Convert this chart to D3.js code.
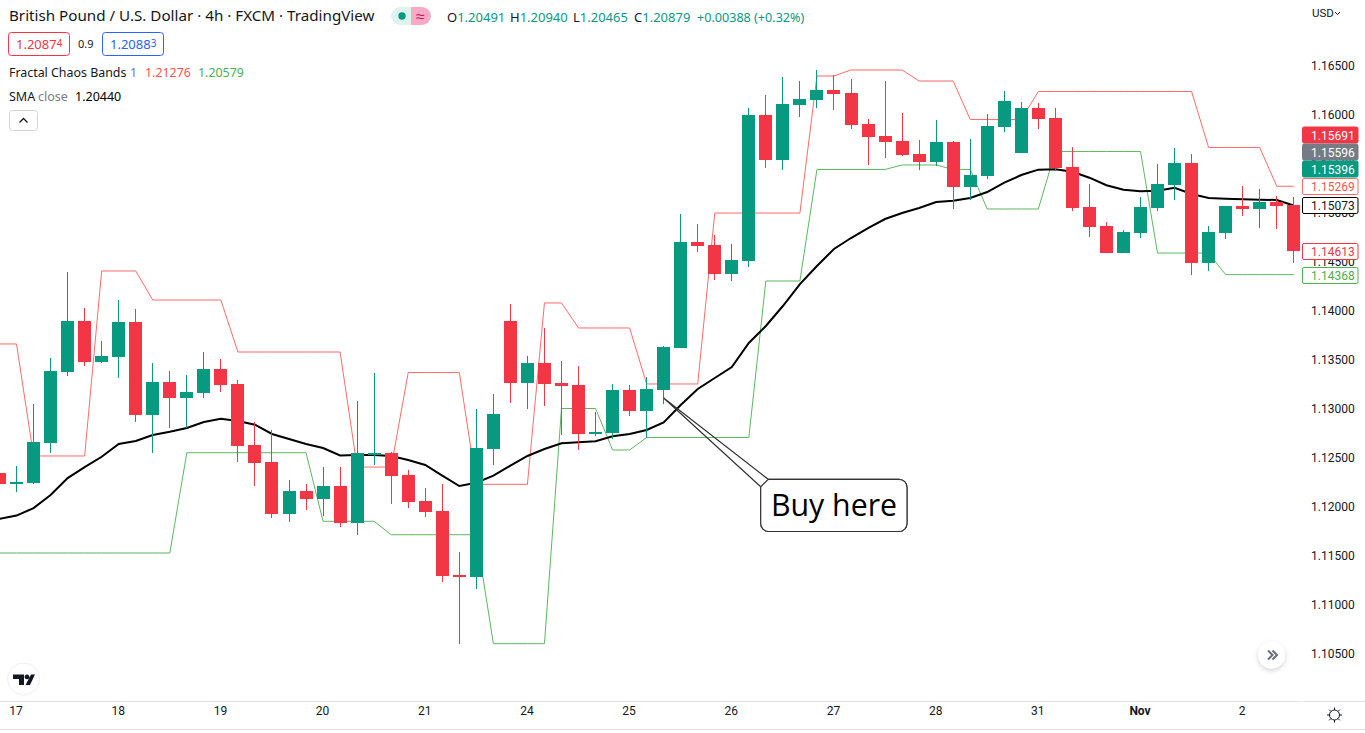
<!DOCTYPE html>
<html lang="en">
<head>
<meta charset="utf-8">
<title>British Pound / U.S. Dollar 4h</title>
<style>
    html, body { margin: 0; padding: 0; background: #fff; overflow: hidden; }
    svg { display: block; }
    text { font-family: "Noto Sans", sans-serif; fill: #131722; }
    .axis text { font-family: Roboto, sans-serif; font-size: 12px; fill: #131722; }
    .axis path, .axis line { display: none; }
</style>
</head>
<body>
<script src="https://cdn.jsdelivr.net/npm/d3@7/dist/d3.min.js"></script>
<script>
// one value per 4h bar
const open = [1.12345,1.12233,1.12243,1.12651,1.13375,1.13895,1.13477,1.13528,1.13885,1.12937,1.13273,1.13110,1.13161,1.13406,1.13253,1.12631,1.12457,1.11927,1.12162,1.12080,1.12213,1.11835,1.12534,1.12549,1.12325,1.12060,1.11958,1.11305,1.11285,1.12590,1.13895,1.13263,1.13467,1.13263,1.13243,1.12743,1.12753,1.13192,1.12977,1.13192,1.13620,1.14701,1.14670,1.14374,1.14507,1.15995,1.15537,1.16097,1.16148,1.16250,1.16220,1.15904,1.15781,1.15730,1.15598,1.15516,1.15720,1.15261,1.15373,1.15873,1.15608,1.16067,1.15965,1.15465,1.15057,1.14864,1.14588,1.14792,1.15047,1.15282,1.15506,1.14486,1.14792,1.15068,1.15037,1.15108,1.15078];
const high = [1.12345,1.12417,1.13049,1.13518,1.14395,1.14028,1.13691,1.14109,1.14017,1.13467,1.13385,1.13344,1.13579,1.13508,1.13294,1.12865,1.12784,1.12274,1.12233,1.12406,1.12406,1.13079,1.13365,1.12559,1.12376,1.12192,1.12233,1.11540,1.12998,1.13151,1.14068,1.13538,1.13824,1.13487,1.13436,1.12967,1.13253,1.13243,1.13324,1.13640,1.14986,1.14884,1.14772,1.14680,1.16067,1.16199,1.16383,1.16342,1.16454,1.16403,1.16362,1.15955,1.16342,1.16016,1.15741,1.15944,1.15730,1.15751,1.16006,1.16240,1.16128,1.16118,1.16067,1.15669,1.15292,1.14904,1.14823,1.15159,1.15496,1.15659,1.15598,1.14864,1.15068,1.15272,1.15241,1.15170,1.15159];
const low = [1.12233,1.12152,1.12233,1.12549,1.13334,1.13436,1.13467,1.13314,1.12865,1.12549,1.12804,1.12804,1.13110,1.13171,1.12457,1.12213,1.11887,1.11846,1.11968,1.11907,1.11795,1.11713,1.12427,1.12029,1.11988,1.11897,1.11234,1.10602,1.11163,1.12427,1.13059,1.12998,1.13028,1.12733,1.12580,1.12722,1.12692,1.12927,1.12702,1.13049,1.13620,1.14599,1.14313,1.14303,1.14446,1.15455,1.15435,1.15975,1.16067,1.16046,1.15853,1.15486,1.15557,1.15577,1.15435,1.15475,1.15037,1.15129,1.15343,1.15822,1.15608,1.15853,1.15424,1.15017,1.14752,1.14588,1.14588,1.14741,1.15017,1.15129,1.14364,1.14405,1.14731,1.14966,1.14843,1.14833,1.14486];
const close = [1.12233,1.12253,1.12661,1.13385,1.13895,1.13477,1.13538,1.13885,1.12937,1.13273,1.13110,1.13171,1.13406,1.13243,1.12621,1.12447,1.11927,1.12162,1.12080,1.12213,1.11835,1.12549,1.12549,1.12315,1.12050,1.11948,1.11295,1.11285,1.12600,1.12947,1.13263,1.13467,1.13253,1.13233,1.12743,1.12763,1.13192,1.12977,1.13202,1.13630,1.14701,1.14660,1.14374,1.14517,1.15995,1.15537,1.16108,1.16159,1.16250,1.16210,1.15894,1.15771,1.15720,1.15588,1.15516,1.15720,1.15261,1.15383,1.15883,1.16138,1.16067,1.15955,1.15455,1.15047,1.14853,1.14588,1.14803,1.15057,1.15292,1.15506,1.14486,1.14803,1.15068,1.15037,1.15108,1.15068,1.14613];

const upperBand = [1.13661,1.13661,1.12519,1.12519,1.12519,1.12519,1.14405,1.14405,1.14405,1.14109,1.14109,1.14109,1.14109,1.14109,1.13579,1.13579,1.13579,1.13579,1.13579,1.13579,1.13579,1.12406,1.12406,1.12406,1.13370,1.13370,1.13370,1.13370,1.12230,1.12230,1.12230,1.12230,1.14079,1.14079,1.13824,1.13824,1.13824,1.13824,1.13253,1.13253,1.13253,1.13253,1.14996,1.14996,1.14996,1.14996,1.14996,1.14996,1.16393,1.16393,1.16454,1.16454,1.16454,1.16454,1.16342,1.16342,1.16342,1.15950,1.15950,1.15950,1.15950,1.16235,1.16235,1.16235,1.16235,1.16235,1.16235,1.16235,1.16235,1.16235,1.16235,1.15664,1.15664,1.15664,1.15664,1.15269,1.15269];
const lowerBand = [1.11530,1.11530,1.11530,1.11530,1.11530,1.11530,1.11530,1.11530,1.11530,1.11530,1.11530,1.12552,1.12552,1.12552,1.12552,1.12552,1.12552,1.12552,1.12552,1.11853,1.11853,1.11853,1.11853,1.11716,1.11716,1.11716,1.11716,1.11716,1.11716,1.10605,1.10605,1.10605,1.10605,1.13003,1.13003,1.13003,1.12580,1.12580,1.12707,1.12707,1.12707,1.12707,1.12707,1.12707,1.12707,1.14303,1.14303,1.14303,1.15440,1.15440,1.15440,1.15440,1.15440,1.15486,1.15486,1.15486,1.15440,1.15440,1.15037,1.15037,1.15037,1.15037,1.15623,1.15623,1.15623,1.15623,1.15623,1.15623,1.14588,1.14588,1.14588,1.14588,1.14368,1.14368,1.14368,1.14368,1.14368];
const sma = [1.11879,1.11911,1.11988,1.12121,1.12294,1.12406,1.12511,1.12641,1.12671,1.12733,1.12766,1.12804,1.12865,1.12899,1.12875,1.12838,1.12743,1.12692,1.12641,1.12600,1.12524,1.12529,1.12529,1.12519,1.12478,1.12427,1.12318,1.12213,1.12246,1.12318,1.12420,1.12519,1.12590,1.12649,1.12659,1.12669,1.12720,1.12743,1.12784,1.12862,1.13039,1.13202,1.13314,1.13426,1.13671,1.13844,1.14048,1.14272,1.14456,1.14629,1.14741,1.14843,1.14935,1.14996,1.15047,1.15108,1.15122,1.15149,1.15210,1.15305,1.15383,1.15438,1.15442,1.15417,1.15356,1.15279,1.15234,1.15218,1.15224,1.15254,1.15190,1.15149,1.15142,1.15136,1.15132,1.15129,1.15073];

const priceTicks = [1.165,1.16,1.155,1.15,1.145,1.14,1.135,1.13,1.125,1.12,1.115,1.11,1.105];
const timeTickBars = [1,7,13,19,25,31,37,43,49,55,61,67,73];
const timeTickLabels = ["17","18","19","20","21","24","25","26","27","28","31","Nov","2"];
const ohlcNames = ["O","H","L","C"];
const ohlcValues = ["1.20491","1.20940","1.20465","1.20879"];

const priceTags = ["1.15691","1.15596","1.15396","1.15269","1.15073","1.14613","1.14368"];

const UP = "#089981", DOWN = "#f23645";
const width = 1365, height = 733;

const x = d3.scaleLinear().domain([0, 76]).range([-0.5, 1293.78]);
const y = d3.scaleLinear().domain([1.165, 1.105]).range([65.5, 654]);

const svg = d3.select("body").append("svg").attr("width", width).attr("height", height);

// bands and sma sit under the candles
const lineGen = d3.line().x((d, i) => x(i)).y(d => y(d));
svg.append("path").datum(upperBand).attr("d", lineGen).attr("fill", "none").attr("stroke", "#ff6a6a").attr("stroke-width", 1);
svg.append("path").datum(lowerBand).attr("d", lineGen).attr("fill", "none").attr("stroke", "#5cb860").attr("stroke-width", 1);
svg.append("path").datum(sma).attr("d", lineGen).attr("fill", "none").attr("stroke", "#000").attr("stroke-width", 2);

const bars = svg.append("g").selectAll("g").data(open).join("g")
    .attr("fill", (d, i) => close[i] >= open[i] ? UP : DOWN);
bars.append("rect")
    .attr("x", (d, i) => Math.floor(x(i)))
    .attr("width", 1)
    .attr("y", (d, i) => Math.round(y(high[i])))
    .attr("height", (d, i) => Math.round(y(low[i])) - Math.round(y(high[i])));
bars.append("rect")
    .attr("x", (d, i) => Math.floor(x(i)) - 6)
    .attr("width", 13)
    .attr("y", (d, i) => Math.round(y(Math.max(open[i], close[i]))))
    .attr("height", (d, i) => Math.max(2, Math.round(y(Math.min(open[i], close[i]))) - Math.round(y(Math.max(open[i], close[i])))));

// price axis
svg.append("g").attr("class", "axis").attr("transform", "translate(1309,0)")
    .call(d3.axisRight(y).tickValues(priceTicks).tickFormat(d3.format(".5f")).tickSize(0).tickPadding(2));

// time axis
svg.append("line").attr("x1", 0).attr("x2", 1302).attr("y1", 701.5).attr("y2", 701.5).attr("stroke", "#e0e3eb");
svg.append("line").attr("x1", 1303).attr("x2", width).attr("y1", 701.5).attr("y2", 701.5).attr("stroke", "#e0e3eb");
svg.append("line").attr("x1", 0).attr("x2", width).attr("y1", 729.5).attr("y2", 729.5).attr("stroke", "#e0e3eb");
const timeAxis = svg.append("g").attr("class", "axis").attr("transform", "translate(-1,706)")
    .call(d3.axisBottom(x).tickValues(timeTickBars).tickFormat((d, i) => timeTickLabels[i]).tickSize(0).tickPadding(0));
timeAxis.selectAll("text").filter((d, i) => timeTickLabels[i] === "Nov").style("font-weight", "bold");

// last value tags on the price scale
const tagStyles = [
    { y: 127, fill: DOWN, stroke: DOWN, text: "#fff" },
    { y: 144, fill: "#787b86", stroke: "#787b86", text: "#fff" },
    { y: 161, fill: UP, stroke: UP, text: "#fff" },
    { y: 178.5, fill: "#fff", stroke: "#ff6a6a", text: "#ff5252" },
    { y: 197.5, fill: "#fff", stroke: "#000", text: "#131722" },
    { y: 243.5, fill: "#fff", stroke: DOWN, text: DOWN },
    { y: 267.5, fill: "#fff", stroke: "#4caf50", text: "#4caf50" }
];
const tags = svg.append("g").selectAll("g").data(priceTags).join("g")
    .attr("transform", (d, i) => "translate(1302.5," + tagStyles[i].y + ")");
tags.append("rect")
    .attr("width", 55.5).attr("height", 16).attr("rx", 1.5)
    .attr("fill", (d, i) => tagStyles[i].fill)
    .attr("stroke", (d, i) => tagStyles[i].stroke);
tags.append("text")
    .attr("x", 8.5).attr("y", 12.5)
    .style("font-family", "Roboto, sans-serif").style("font-size", "12px")
    .style("fill", (d, i) => tagStyles[i].text)
    .text(d => d);

// "Buy here" callout, tail anchored at the bar it points to
const tipX = x(39), tipY = y(1.13049) - 6;
svg.append("path")
    .attr("d", "M760.7,486.7L" + tipX + "," + tipY + "L768.3,479.3H899a8,8 0 0 1 8,8V523.5a8,8 0 0 1 -8,8H768.7a8,8 0 0 1 -8,-8Z")
    .attr("fill", "none").attr("stroke", "#333").attr("stroke-width", 1.2);
svg.append("path")
    .attr("d", "M768.3,479.3H899a8,8 0 0 1 8,8V523.5a8,8 0 0 1 -8,8H768.7a8,8 0 0 1 -8,-8V486.7Z")
    .attr("fill", "#fff").attr("stroke", "#333").attr("stroke-width", 1.2);
svg.append("text").attr("x", 834).attr("y", 516).attr("text-anchor", "middle")
    .style("font-family", "'Open Sans', sans-serif").style("font-size", "30.3px").style("fill", "#000").text("Buy here");

// legend
const legend = svg.append("g");
legend.append("text").attr("x", 9).attr("y", 21).style("font-size", "15.2px").text("British Pound / U.S. Dollar · 4h · FXCM · TradingView");

legend.append("path").attr("d", "M411,7H400a9,9 0 0 0 0,18H411Z").attr("fill", "#dff3ee");
legend.append("path").attr("d", "M411,7H422a9,9 0 0 1 0,18H411Z").attr("fill", "#f7aac5");
legend.append("circle").attr("cx", 402).attr("cy", 16).attr("r", 3.7).attr("fill", UP);
legend.append("text").attr("x", 420.5).attr("y", 21.5).attr("text-anchor", "middle").style("font-size", "16px").style("fill", "#c2185b").text("≈");

const ohlcX = [447, 510, 573, 634];
ohlcNames.forEach((n, i) => {
    const t = legend.append("text").attr("x", ohlcX[i]).attr("y", 22).style("font-size", "13px");
    t.append("tspan").text(n);
    t.append("tspan").style("fill", UP).text(ohlcValues[i]);
});
legend.append("text").attr("x", 697).attr("y", 22).style("font-size", "12.6px").style("fill", UP).text("+0.00388 (+0.32%)");

legend.append("rect").attr("x", 8.5).attr("y", 32.5).attr("width", 61).attr("height", 23).attr("rx", 3).attr("fill", "#fff").attr("stroke", DOWN);
legend.append("rect").attr("x", 102.5).attr("y", 32.5).attr("width", 61).attr("height", 23).attr("rx", 3).attr("fill", "#fff").attr("stroke", "#2962ff");
const sellTag = legend.append("text").attr("x", 16).attr("y", 49).style("font-size", "13px").style("fill", DOWN);
sellTag.append("tspan").text("1.2087");
sellTag.append("tspan").attr("dy", -2).style("font-size", "10px").text("4");
legend.append("text").attr("x", 78).attr("y", 48).style("font-size", "11px").text("0.9");
const buyTag = legend.append("text").attr("x", 110).attr("y", 49).style("font-size", "13px").style("fill", "#2962ff");
buyTag.append("tspan").text("1.2088");
buyTag.append("tspan").attr("dy", -2).style("font-size", "10px").text("3");

const fractal = legend.append("text").attr("x", 9).attr("y", 77).style("font-size", "12.4px");
fractal.append("tspan").text("Fractal Chaos Bands");
fractal.append("tspan").attr("x", 130).style("fill", "#787b86").text("1");
fractal.append("tspan").attr("x", 145).style("fill", "#ff5252").text("1.21276");
fractal.append("tspan").attr("x", 198).style("fill", "#4caf50").text("1.20579");

const smaText = legend.append("text").attr("x", 9).attr("y", 101).style("font-size", "12.5px");
smaText.append("tspan").text("SMA");
smaText.append("tspan").attr("x", 38).style("fill", "#787b86").text("close");
smaText.append("tspan").attr("x", 75).style("fill", "#000").text("1.20440");

legend.append("rect").attr("x", 9.5).attr("y", 110.5).attr("width", 28).attr("height", 20).attr("rx", 3).attr("fill", "#fff").attr("stroke", "#d1d4dc");
legend.append("path").attr("d", "M19.5,122.5l4,-4l4,4").attr("fill", "none").attr("stroke", "#131722").attr("stroke-width", 1.3);

// currency switch
svg.append("text").attr("x", 1312).attr("y", 17).style("font-family", "Roboto, sans-serif").style("font-size", "11.5px").text("USD");
svg.append("path").attr("d", "M1335,12l2.5,2.5l2.5,-2.5").attr("fill", "none").attr("stroke", "#131722");

// logo badge
svg.append("circle").attr("cx", 23.5).attr("cy", 679).attr("r", 16).attr("fill", "#fff").attr("stroke", "#eceef2").attr("stroke-width", 1);
svg.append("path").attr("d", "M13,674.5H24V685H19V679H13Z M27,674.5a2.4,2.4 0 1 0 0.01,0Z M31,674.5H35L30,685H25.5Z").attr("fill", "#131722");

// scroll to realtime button
const shadow = svg.append("defs").append("filter").attr("id", "soft").attr("x", "-50%").attr("y", "-50%").attr("width", "200%").attr("height", "200%");
shadow.append("feDropShadow").attr("dx", 0).attr("dy", 2).attr("stdDeviation", 2.5).attr("flood-color", "#000").attr("flood-opacity", 0.18);
svg.append("circle").attr("cx", 1271.5).attr("cy", 655).attr("r", 13.5).attr("fill", "#fff").attr("filter", "url(#soft)");
svg.append("path").attr("d", "M1268,650.5l4.5,4.5l-4.5,4.5M1272.5,650.5l4.5,4.5l-4.5,4.5").attr("fill", "none").attr("stroke", "#6a6d78").attr("stroke-width", 2);

// settings icon
const gear = svg.append("g").attr("transform", "translate(1334.5,715)").attr("stroke", "#131722").attr("fill", "none");
gear.append("circle").attr("r", 5);
gear.selectAll("line").data(d3.range(8)).join("line")
    .attr("x1", d => 5 * Math.cos(d * Math.PI / 4)).attr("y1", d => 5 * Math.sin(d * Math.PI / 4))
    .attr("x2", d => 7.5 * Math.cos(d * Math.PI / 4)).attr("y2", d => 7.5 * Math.sin(d * Math.PI / 4));
</script>
</body>
</html>
